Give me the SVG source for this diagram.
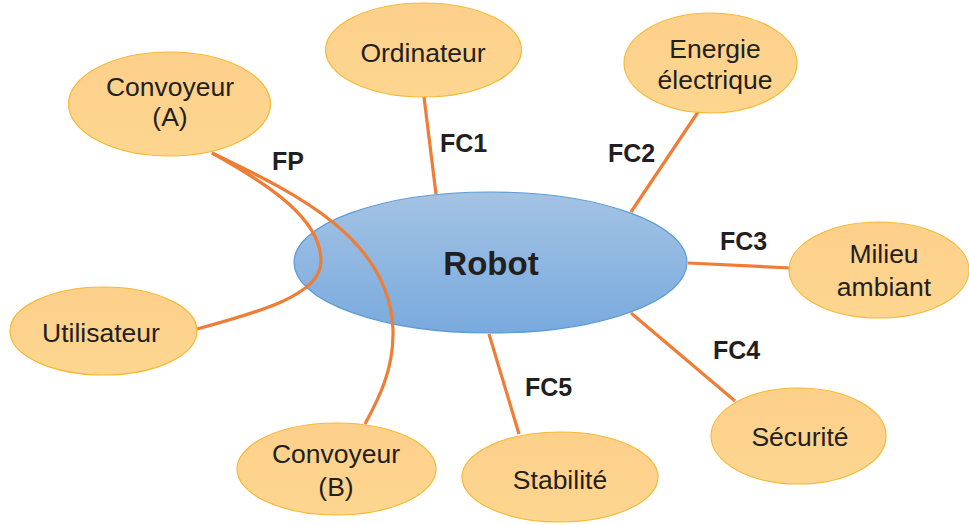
<svg xmlns="http://www.w3.org/2000/svg" width="969" height="525" viewBox="0 0 969 525">
<defs>
<linearGradient id="gBlue" x1="0" y1="0" x2="0" y2="1"><stop offset="0" stop-color="#a4c3e4"/><stop offset="1" stop-color="#79aade"/></linearGradient>
<linearGradient id="gOr" x1="0" y1="0" x2="0" y2="1"><stop offset="0" stop-color="#fdd08a"/><stop offset="1" stop-color="#fdd690"/></linearGradient>
</defs>
<style>
.n{fill:url(#gOr);stroke:#f7b834;stroke-width:1.2}
.t{font-family:"Liberation Sans",Arial,sans-serif;font-size:26.5px;fill:#231f20;text-anchor:middle}
.l{font-family:"Liberation Sans",Arial,sans-serif;font-size:25px;font-weight:bold;fill:#231f20}
.c{fill:none;stroke:#ef7d35;stroke-width:3.2}
</style>
<g id="robot">
<ellipse cx="490.5" cy="262.5" rx="196.5" ry="70.5" fill="url(#gBlue)" stroke="#5b9bd5" stroke-width="1.2"/>
</g>
<g id="connectors">
<path class="c" d="M212,153 C270,185 322,220 321,262 C320,295 260,312 197,329"/>
<path class="c" d="M212,153 C300,195 390,240 393,330 C394,370 378,400 365,424"/>
<line class="c" x1="424" y1="97" x2="436" y2="194"/>
<line class="c" x1="698" y1="112" x2="631" y2="212"/>
<line class="c" x1="688" y1="263" x2="790" y2="268"/>
<line class="c" x1="631" y1="313" x2="735" y2="401"/>
<line class="c" x1="489" y1="334" x2="519" y2="434"/>
</g>
<g id="robot-label"><text class="l" x="491" y="275" text-anchor="middle" style="font-size:33px">Robot</text></g>
<g id="convoyeurA"><ellipse class="n" cx="169.5" cy="104" rx="101" ry="52"/><text class="t" x="170" y="96">Convoyeur</text><text class="t" x="170" y="126">(A)</text></g>
<g id="ordinateur"><ellipse class="n" cx="423.5" cy="50" rx="98" ry="47"/><text class="t" x="423" y="62">Ordinateur</text></g>
<g id="energie"><ellipse class="n" cx="710.5" cy="63" rx="86.5" ry="50"/><text class="t" x="715" y="58">Energie</text><text class="t" x="715" y="89">électrique</text></g>
<g id="milieu"><ellipse class="n" cx="879" cy="270" rx="90" ry="48"/><text class="t" x="884" y="263">Milieu</text><text class="t" x="884" y="296">ambiant</text></g>
<g id="utilisateur"><ellipse class="n" cx="103.5" cy="331" rx="93.5" ry="44"/><text class="t" x="101" y="342">Utilisateur</text></g>
<g id="convoyeurB"><ellipse class="n" cx="336.5" cy="469" rx="99.5" ry="46"/><text class="t" x="336" y="463">Convoyeur</text><text class="t" x="336" y="496">(B)</text></g>
<g id="stabilite"><ellipse class="n" cx="560" cy="477" rx="98" ry="45"/><text class="t" x="560" y="489">Stabilité</text></g>
<g id="securite"><ellipse class="n" cx="798.5" cy="436" rx="87.5" ry="48"/><text class="t" x="800" y="446">Sécurité</text></g>
<g id="labels">
<text class="l" x="272" y="170">FP</text>
<text class="l" x="440" y="152">FC1</text>
<text class="l" x="608" y="162">FC2</text>
<text class="l" x="720" y="250">FC3</text>
<text class="l" x="713" y="359">FC4</text>
<text class="l" x="525" y="396">FC5</text>
</g>
</svg>
